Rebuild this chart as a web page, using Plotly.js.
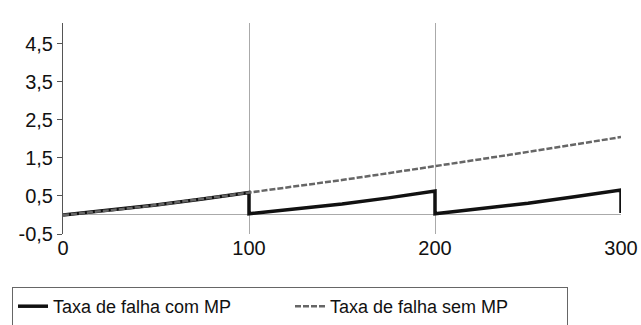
<!DOCTYPE html>
<html>
<head>
<meta charset="utf-8">
<script src="https://cdn.plot.ly/plotly-3.0.1.min.js"></script>
<style>
  html, body { margin: 0; padding: 0; background: #fff; }
  #chart { width: 641px; height: 325px; }
</style>
</head>
<body>
<div id="chart"></div>
<script>
// Tempo (x) and failure rates
const xSemMP = [0, 25, 50, 75, 100, 125, 150, 175, 200, 225, 250, 275, 300];
const ySemMP = [0, 0.12, 0.26, 0.42, 0.59, 0.75, 0.92, 1.10, 1.28, 1.47, 1.66, 1.86, 2.05];

const xComMP = [0, 25, 50, 75, 100, 100, 125, 150, 175, 200, 200, 225, 250, 275, 300, 300];
const yComMP = [0, 0.12, 0.26, 0.42, 0.59, 0.03, 0.15, 0.29, 0.45, 0.63, 0.03, 0.16, 0.31, 0.48, 0.66, 0.05];

const seriesNames = ['Taxa de falha com MP', 'Taxa de falha sem MP'];
const xTicks = [0, 100, 200, 300];
const yTicks = [-0.5, 0.5, 1.5, 2.5, 3.5, 4.5];
const yTickLabels = ['-0,5', '0,5', '1,5', '2,5', '3,5', '4,5'];

const font = 'Liberation Sans, Arial, sans-serif';

const traces = [
  {
    x: xComMP, y: yComMP, name: seriesNames[0], type: 'scatter', mode: 'lines',
    line: { color: '#111', width: 3.5 }
  },
  {
    x: xSemMP, y: ySemMP, name: seriesNames[1], type: 'scatter', mode: 'lines',
    line: { color: '#666', width: 2.5, dash: '6px,2px' }
  }
];

const layout = {
  width: 641, height: 325,
  margin: { l: 63, r: 20, t: 23, b: 91 },
  paper_bgcolor: '#fff', plot_bgcolor: '#fff',
  separators: ',.',
  font: { family: font, size: 19, color: '#111' },
  showlegend: true,
  xaxis: {
    range: [0, 300], tickvals: xTicks, ticks: '', showline: false,
    showgrid: true, gridcolor: '#aaa', gridwidth: 1, zeroline: false,
    tickfont: { family: font, size: 20, color: '#111' }, fixedrange: true
  },
  yaxis: {
    range: [-0.5, 5.05], tickvals: yTicks, ticktext: yTickLabels,
    ticks: 'outside', ticklen: 5, tickcolor: '#555', tickwidth: 1,
    showline: true, linecolor: '#555', linewidth: 1,
    showgrid: false, zeroline: true, zerolinecolor: '#aaa', zerolinewidth: 1,
    tickfont: { family: font, size: 20, color: '#111' }, fixedrange: true
  },
  legend: {
    orientation: 'h', xref: 'container', yref: 'container',
    x: 12 / 641, y: 1 - 287 / 325, xanchor: 'left', yanchor: 'top',
    bordercolor: '#666', borderwidth: 1, bgcolor: '#fff',
    entrywidth: 232, entrywidthmode: 'pixels',
    font: { family: font, size: 18, color: '#111' }
  }
};

Plotly.newPlot('chart', traces, layout, { displayModeBar: false, staticPlot: true });
</script>
</body>
</html>
